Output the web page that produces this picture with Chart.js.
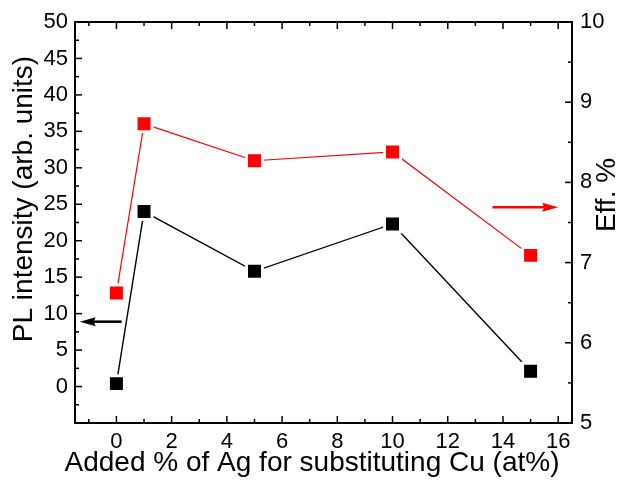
<!DOCTYPE html>
<html>
<head>
<meta charset="utf-8">
<script src="https://cdn.jsdelivr.net/npm/chart.js@4/dist/chart.umd.min.js"></script>
<style>
  html, body { margin: 0; padding: 0; background: #fff; }
  #wrap { width: 620px; height: 481px; }
</style>
</head>
<body>
<div id="wrap"><canvas id="chart" width="620" height="481"></canvas></div>
<script>
// 資料
const agPercent = [0, 1, 5, 10, 15];
const plIntensity = [0.4, 24.0, 15.8, 22.3, 2.1];
const efficiency = [6.62, 8.73, 8.27, 8.38, 7.09];

const xTicks = [0, 2, 4, 6, 8, 10, 12, 14, 16];
const yTicks = [0, 5, 10, 15, 20, 25, 30, 35, 40, 45, 50];
const y2Ticks = [5, 6, 7, 8, 9, 10];

const xTitle = "Added % of Ag for substituting Cu (at%)";
const yTitle = "PL intensity (arb. units)";
const y2Title = "Eff. %";

// 箭頭（資料座標）
const arrows = [
  { axis: "y", from: [0.19, 8.9], to: [-1.33, 8.9], color: "#000000" },
  { axis: "y2", from: [13.62, 7.69], to: [16.0, 7.69], color: "#ff0000" },
];

const FONT = "'Liberation Sans', Arial, sans-serif";

// 向內的刻度、外框、標題和箭頭
const framePlugin = {
  id: "frame",
  afterDatasetsDraw(chart) {
    const ctx = chart.ctx;
    const a = chart.chartArea;
    const sx = chart.scales.x;
    const sy = chart.scales.y;
    const sy2 = chart.scales.y2;
    ctx.save();
    ctx.strokeStyle = "#000";

    // 刻度
    ctx.lineWidth = 1.5;
    const tick = (x1, y1, x2, y2) => {
      ctx.beginPath();
      ctx.moveTo(x1, y1);
      ctx.lineTo(x2, y2);
      ctx.stroke();
    };
    for (let v = -1; v <= 16; v += 1) {
      const len = v % 2 === 0 ? 7 : 4;
      const px = sx.getPixelForValue(v);
      tick(px, a.bottom, px, a.bottom - len);
      tick(px, a.top, px, a.top + len);
    }
    for (let v = -2.5; v <= 50; v += 2.5) {
      const len = v % 5 === 0 ? 7 : 4;
      const py = sy.getPixelForValue(v);
      tick(a.left, py, a.left + len, py);
    }
    for (let v = 5; v <= 10; v += 0.5) {
      const len = v % 1 === 0 ? 7 : 4;
      const py = sy2.getPixelForValue(v);
      tick(a.right, py, a.right - len, py);
    }

    // 外框
    ctx.lineWidth = 2;
    ctx.strokeRect(a.left, a.top, a.right - a.left, a.bottom - a.top);

    // 箭頭
    arrows.forEach((ar) => {
      const ys = chart.scales[ar.axis];
      const x1 = sx.getPixelForValue(ar.from[0]);
      const y1 = ys.getPixelForValue(ar.from[1]);
      const x2 = sx.getPixelForValue(ar.to[0]);
      const y2 = ys.getPixelForValue(ar.to[1]);
      const dir = Math.sign(x2 - x1);
      const head = 16;
      ctx.strokeStyle = ar.color;
      ctx.fillStyle = ar.color;
      ctx.lineWidth = 2.5;
      ctx.beginPath();
      ctx.moveTo(x1, y1);
      ctx.lineTo(x2 - dir * (head - 2), y2);
      ctx.stroke();
      ctx.beginPath();
      ctx.moveTo(x2, y2);
      ctx.lineTo(x2 - dir * head, y2 - 4.5);
      ctx.lineTo(x2 - dir * (head - 2), y2);
      ctx.lineTo(x2 - dir * head, y2 + 4.5);
      ctx.closePath();
      ctx.fill();
    });

    // 標題
    ctx.fillStyle = "#000";
    ctx.textAlign = "center";
    ctx.textBaseline = "middle";
    ctx.font = "28px " + FONT;
    ctx.fillText(xTitle, 312, 463);

    ctx.save();
    ctx.translate(24, 199);
    ctx.rotate(-Math.PI / 2);
    ctx.fillText(yTitle, 0, 0);
    ctx.restore();

    ctx.save();
    ctx.translate(607, 195);
    ctx.rotate(-Math.PI / 2);
    ctx.fillText(y2Title, 0, 0);
    ctx.restore();

    ctx.restore();
  },
};

const chart = document.querySelector("#chart").getContext("2d");

new Chart(chart, {
  type: "scatter",
  data: {
    datasets: [
      {
        label: "PL",
        data: agPercent.map((x, i) => ({ x: x, y: plIntensity[i] })),
        yAxisID: "y",
        showLine: true,
        borderColor: "#000000",
        borderWidth: 1.4,
        pointStyle: "rect",
        pointRadius: 11.3,
        pointBackgroundColor: "#000000",
        pointBorderColor: "#ffffff",
        pointBorderWidth: 3,
      },
      {
        label: "Eff",
        data: agPercent.map((x, i) => ({ x: x, y: efficiency[i] })),
        yAxisID: "y2",
        showLine: true,
        borderColor: "#ff0000",
        borderWidth: 1.2,
        pointStyle: "rect",
        pointRadius: 11.3,
        pointBackgroundColor: "#ff0000",
        pointBorderColor: "#ffffff",
        pointBorderWidth: 3,
      },
    ],
  },
  options: {
    responsive: false,
    animation: false,
    events: [],
    layout: { padding: { top: 22, left: 0, right: 0, bottom: 0 } },
    plugins: {
      legend: { display: false },
      tooltip: { enabled: false },
    },
    scales: {
      x: {
        type: "linear",
        min: -1.5,
        max: 16.5,
        grid: { display: false, drawTicks: false },
        border: { display: false },
        afterBuildTicks: (s) => {
          s.ticks = xTicks.map((v) => ({ value: v }));
        },
        afterFit: (s) => {
          s.height = 58;
        },
        ticks: {
          color: "#000",
          padding: 6,
          maxRotation: 0,
          font: { family: FONT, size: 22 },
        },
      },
      y: {
        type: "linear",
        position: "left",
        min: -5,
        max: 50,
        grid: { display: false, drawTicks: false },
        border: { display: false },
        afterBuildTicks: (s) => {
          s.ticks = yTicks.map((v) => ({ value: v }));
        },
        afterFit: (s) => {
          s.width = 75;
        },
        ticks: {
          color: "#000",
          padding: 7,
          font: { family: FONT, size: 22 },
        },
      },
      y2: {
        type: "linear",
        position: "right",
        min: 5,
        max: 10,
        grid: { display: false, drawTicks: false },
        border: { display: false },
        afterBuildTicks: (s) => {
          s.ticks = y2Ticks.map((v) => ({ value: v }));
        },
        afterFit: (s) => {
          s.width = 48;
        },
        ticks: {
          color: "#000",
          padding: 8,
          font: { family: FONT, size: 22 },
        },
      },
    },
  },
  plugins: [framePlugin],
});
</script>
</body>
</html>
